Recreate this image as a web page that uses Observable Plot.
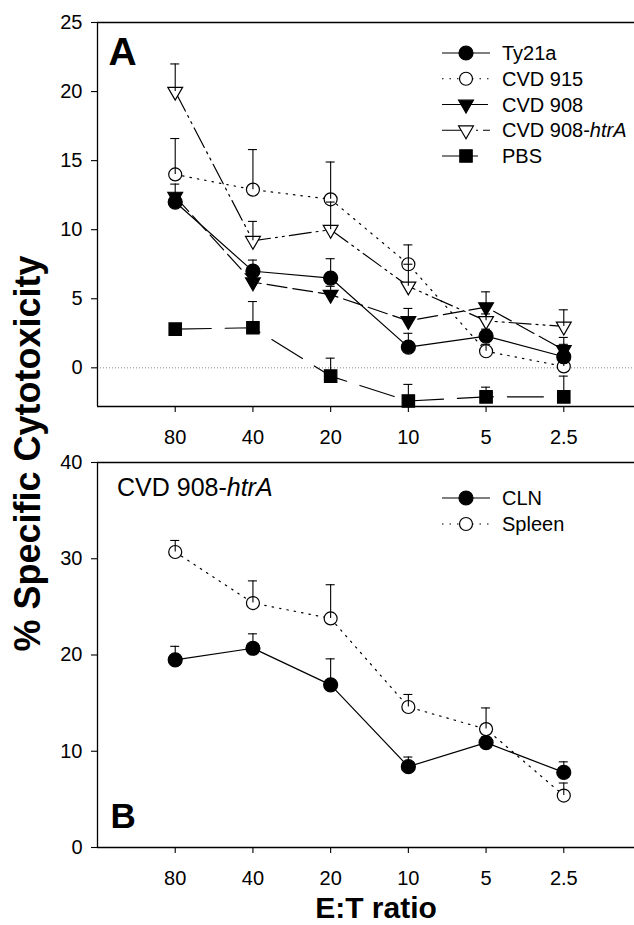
<!DOCTYPE html>
<html><head><meta charset="utf-8">
<script src="https://cdn.jsdelivr.net/npm/d3@7"></script>
<script src="https://cdn.jsdelivr.net/npm/@observablehq/plot@0.6"></script>
<style>
html,body{margin:0;padding:0;background:#fff;overflow:hidden}
#wrap{position:relative;width:634px;height:925px;overflow:hidden;background:#fff}
#wrap > div > svg{display:block}
#overlay{position:absolute;left:0;top:0;pointer-events:none}
</style></head><body>
<div id="wrap"><div id="pa"></div><div id="pb"></div></div>
<script>
// ---------- data ----------
const ratios = ["80", "40", "20", "10", "5", "2.5"];

// Panel A
const seriesA = ["Ty21a", "CVD 915", "CVD 908", "CVD 908-htrA", "PBS"];
const ty21a     = [12.0, 7.0, 6.5, 1.5, 2.3, 0.8];
const ty21aErr  = [0.5, 0.8, 1.4, 1.0, 0.5, 0.9];
const cvd915    = [14.0, 12.9, 12.2, 7.5, 1.2, 0.1];
const cvd915Err = [2.6, 2.9, 2.7, 1.4, 0.5, 0.4];
const cvd908    = [12.4, 6.2, 5.3, 3.4, 4.4, 1.3];
const cvd908Err = [0.9, 0.7, 0.6, 0.9, 1.1, 0.9];
const htrA      = [20.0, 9.2, 10.0, 5.9, 3.4, 3.0];
const htrAErr   = [2.0, 1.4, 2.0, 1.6, 0.5, 1.2];
const pbs       = [2.8, 2.9, -0.6, -2.4, -2.1, -2.1];
const pbsErr    = [0.3, 1.9, 1.3, 1.2, 0.7, 1.5];
const ticksA = [0, 5, 10, 15, 20, 25];

// Panel B
const seriesB = ["CLN", "Spleen"];
const cln       = [19.5, 20.7, 16.9, 8.4, 10.9, 7.8];
const clnErr    = [1.4, 1.5, 2.7, 1.0, 0.6, 1.1];
const spleen    = [30.7, 25.4, 23.8, 14.6, 12.3, 5.4];
const spleenErr = [1.2, 2.3, 3.5, 1.3, 2.2, 1.3];
const ticksB = [0, 10, 20, 30, 40];

// ---------- styles ----------
const triDown = {draw(ctx, size) {
  const y = Math.sqrt(size / (Math.sqrt(3) * 3));
  ctx.moveTo(0, 2 * y); ctx.lineTo(-Math.sqrt(3) * y, -y); ctx.lineTo(Math.sqrt(3) * y, -y); ctx.closePath();
}};
const styles = {
  "Ty21a":        {symbol: "circle", fill: "black", r: 7,   dash: null},
  "CVD 915":      {symbol: "circle", fill: "white", r: 6.5, dash: "1.5,6"},
  "CVD 908":      {symbol: triDown,  fill: "black", r: 5.5, dash: "20,6"},
  "CVD 908-htrA": {symbol: triDown,  fill: "white", r: 5.5, dash: "22,5,2,5,2,5"},
  "PBS":          {symbol: "square", fill: "black", r: 7,   dash: "36,14"},
  "CLN":          {symbol: "circle", fill: "black", r: 7,   dash: null},
  "Spleen":       {symbol: "circle", fill: "white", r: 6.5, dash: "1.5,6"}
};

function tidy(names, vals, errs) {
  return names.flatMap((n, k) => vals[k].map((v, i) => ({series: n, i, v, e: errs[k][i]})));
}
const rowsA = tidy(seriesA, [ty21a, cvd915, cvd908, htrA, pbs], [ty21aErr, cvd915Err, cvd908Err, htrAErr, pbsErr]);
const rowsB = tidy(seriesB, [cln, spleen], [clnErr, spleenErr]);

const FONT = "'Liberation Sans', Arial, Helvetica, sans-serif";
const CAP = 0.058;

function seriesMarks(rows, names) {
  const m = [];
  for (const n of names) {
    const st = styles[n];
    const d = rows.filter(r => r.series === n);
    m.push(Plot.line(d, {x: "i", y: "v", stroke: "black", strokeWidth: 1.2, strokeDasharray: st.dash}));
  }
  for (const n of names.slice().reverse()) {
    const st = styles[n];
    const d = rows.filter(r => r.series === n);
    m.push(Plot.dot(d, {x: "i", y: "v", symbol: st.symbol, r: st.r, fill: st.fill, stroke: "black", strokeWidth: 1.2}));
  }
  m.push(Plot.ruleX(rows, {x: "i", y1: "v", y2: d => d.v + d.e, stroke: "black", strokeWidth: 1.1}));
  m.push(Plot.ruleY(rows, {y: d => d.v + d.e, x1: d => d.i - CAP, x2: d => d.i + CAP, stroke: "black", strokeWidth: 1.1}));
  return m;
}

function panel(rows, names, yDomain, yTicks, height, mt, mb, extra) {
  return Plot.plot({
    width: 634, height, marginLeft: 97, marginRight: 0, marginTop: mt, marginBottom: mb,
    style: {fontFamily: FONT, fontSize: "20px", color: "black", background: "white", overflow: "visible"},
    x: {type: "linear", domain: [-1, ratios.length], range: [97, 641]},
    y: {domain: yDomain},
    marks: [
      ...extra.before,
      ...seriesMarks(rows, names),
      Plot.ruleY(yDomain, {stroke: "black", strokeWidth: 1.3}),
      Plot.ruleX([-1], {stroke: "black", strokeWidth: 1.3}),
      Plot.axisY(yTicks, {tickSize: 6, tickPadding: 9, label: null, strokeWidth: 1.1}),
      Plot.axisX(d3.range(ratios.length), {tickSize: 6, tickPadding: 17, tickFormat: i => ratios[i], label: null, strokeWidth: 1.1}),
      ...extra.after
    ]
  });
}

const pa = panel(rowsA, seriesA, [-2.8, 25], ticksA, 450, 22, 44, {
  before: [Plot.ruleY([0], {stroke: "#888", strokeWidth: 1, strokeDasharray: "1,2"})],
  after: [Plot.text(["A"], {frameAnchor: "top-left", dx: 11, dy: 15, fontSize: 39, fontWeight: "bold", lineAnchor: "top", textAnchor: "start"})]
});
const pb = panel(rowsB, seriesB, [0, 40], ticksB, 475, 12, 78, {
  before: [],
  after: [Plot.text(["B"], {frameAnchor: "bottom-left", dx: 13, dy: -20, fontSize: 35, fontWeight: "bold", lineAnchor: "bottom", textAnchor: "start"})]
});
document.getElementById("pa").appendChild(pa);
document.getElementById("pb").appendChild(pb);

// ---------- overlay: axis titles, legends, annotation ----------
const svg = d3.select("#wrap").append("svg").attr("id", "overlay")
  .attr("width", 634).attr("height", 925).style("font-family", FONT);

svg.append("text").attr("transform", "translate(40,453.5) rotate(-90)")
  .attr("text-anchor", "middle").attr("font-size", 36).attr("font-weight", "bold")
  .text("% Specific Cytotoxicity");
svg.append("text").attr("x", 376).attr("y", 918)
  .attr("text-anchor", "middle").attr("font-size", 30).attr("font-weight", "bold")
  .text("E:T ratio");

const ann = svg.append("text").attr("x", 117).attr("y", 496).attr("font-size", 25);
ann.append("tspan").text("CVD 908-");
ann.append("tspan").attr("font-style", "italic").text("htrA");

function legend(names, y0, dy) {
  names.forEach((n, k) => {
    const st = styles[n];
    const y = y0 + k * dy;
    const g = svg.append("g");
    g.append("line").attr("x1", 442).attr("x2", 490).attr("y1", y).attr("y2", y)
      .attr("stroke", "black").attr("stroke-width", 1.2).attr("stroke-dasharray", st.dash);
    const sym = typeof st.symbol === "string"
      ? (st.symbol === "square" ? d3.symbolSquare : d3.symbolCircle) : st.symbol;
    g.append("path").attr("transform", `translate(466,${y})`)
      .attr("d", d3.symbol(sym, Math.PI * st.r * st.r)())
      .attr("fill", st.fill).attr("stroke", "black").attr("stroke-width", 1.2);
    const t = g.append("text").attr("x", 502).attr("y", y + 7).attr("font-size", 20);
    const m = n.match(/^(.*-)(htrA)$/);
    if (m) { t.append("tspan").text(m[1]); t.append("tspan").attr("font-style", "italic").text(m[2]); }
    else t.text(n);
  });
}
legend(seriesA, 53, 25.75);
legend(seriesB, 498, 26);
</script>
</body></html>
